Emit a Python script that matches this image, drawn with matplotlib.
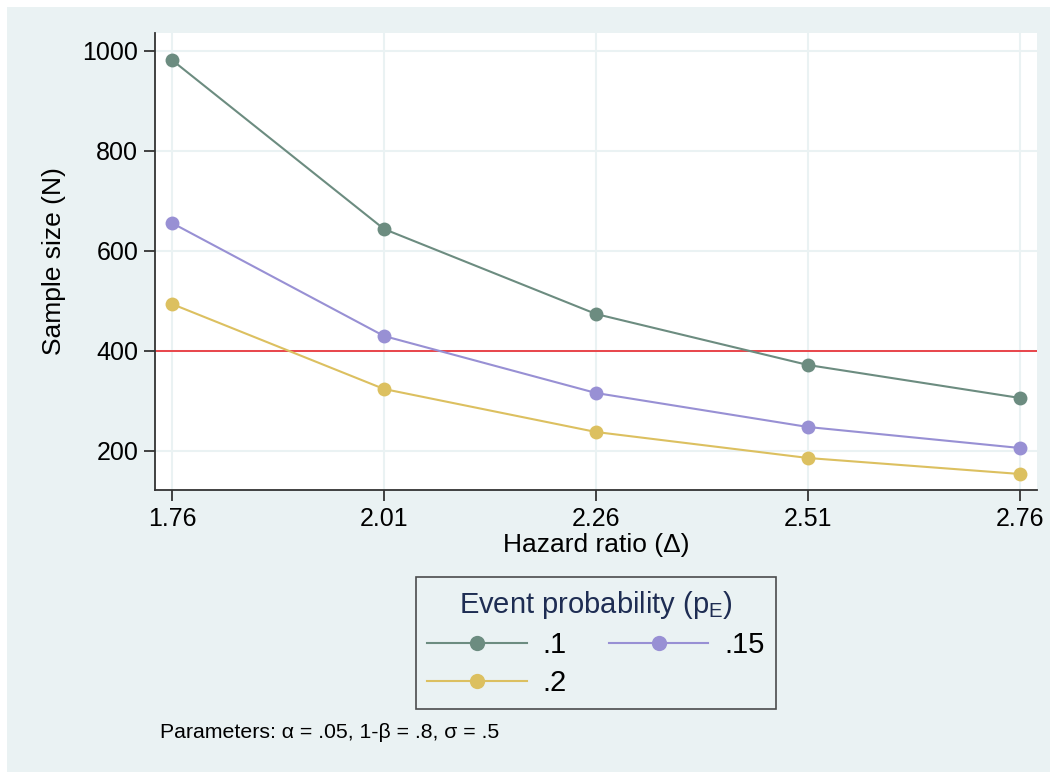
#!/usr/bin/env python3
import matplotlib

matplotlib.use("Agg")

import matplotlib.pyplot as plt
from matplotlib.patches import Rectangle

# data
hazard_ratio = [1.76, 2.01, 2.26, 2.51, 2.76]
n_p10 = [982, 644, 474, 372, 306]
n_p15 = [656, 430, 316, 248, 206]
n_p20 = [494, 324, 238, 186, 154]
series_labels = [".1", ".15", ".2"]
y_ticks = [200, 400, 600, 800, 1000]
ref_line = 400

BG = "#EAF2F3"
COLORS = ["#6C8C80", "#9890D4", "#DCC060"]
W, H = 1050, 772

plt.rcParams["font.family"] = ["Liberation Sans", "DejaVu Sans"]

fig = plt.figure(figsize=(W / 100, H / 100), dpi=100, facecolor="white")
fig.patches.append(
    Rectangle((7 / W, 0), (W - 7) / W, (H - 7) / H, transform=fig.transFigure,
              facecolor=BG, edgecolor="none", zorder=-10)
)

# plot region in pixels: x 155..1037, y 33..490
ax = fig.add_axes([155 / W, 1 - 490 / H, (1037 - 155) / W, (490 - 33) / H])
ax.set_facecolor("white")

lines = []
for vals, lab, col in zip((n_p10, n_p15, n_p20), series_labels, COLORS):
    (ln,) = ax.plot(hazard_ratio, vals, color=col, lw=1.5, marker="o", ms=10,
                    markeredgewidth=0, label=lab, zorder=3)
    lines.append(ln)

ax.axhline(ref_line, color="#E8161C", lw=1.1, zorder=2)

ax.set_xlim(1.74, 2.78)
ax.set_ylim(122, 1036)
ax.set_xticks(hazard_ratio)
ax.set_xticklabels([f"{v:.2f}" for v in hazard_ratio])
ax.set_yticks(y_ticks)
ax.grid(True, color=BG, lw=1.5, zorder=0)
ax.set_axisbelow(True)

for side in ("top", "right"):
    ax.spines[side].set_visible(False)
for side in ("left", "bottom"):
    ax.spines[side].set_color("#333333")
    ax.spines[side].set_linewidth(1.3)

ax.tick_params(axis="both", labelsize=18, length=8, width=1.3, color="#333333", pad=4)
ax.set_xlabel("Hazard ratio (\u0394)", fontsize=19, labelpad=2)
ax.set_ylabel("Sample size (N)", fontsize=19, labelpad=12)

# row-wise legend order: .1 .15 / .2
order = [0, 2, 1]
leg = ax.legend(
    [lines[i] for i in order], [series_labels[i] for i in order],
    loc="center", bbox_to_anchor=(596 / W, 1 - 643 / H), bbox_transform=fig.transFigure,
    ncol=2, fontsize=21, title="Event probability (p$_\\mathregular{E}$)",
    title_fontsize=21, frameon=True, fancybox=False, handlelength=3.4,
    handletextpad=0.55, columnspacing=1.45, borderpad=0.4, labelspacing=0.35,
    markerscale=1.1,
)
leg.get_frame().set_facecolor(BG)
leg.get_frame().set_edgecolor("#222222")
leg.get_frame().set_linewidth(1.2)
leg.get_title().set_color("#1E2D53")

fig.text(160 / W, 1 - 733 / H, "Parameters: \u03b1 = .05, 1-\u03b2 = .8, \u03c3 = .5",
         fontsize=15.3, ha="left", va="center")

fig.savefig("out.png", dpi=100, facecolor="white")
plt.close(fig)
